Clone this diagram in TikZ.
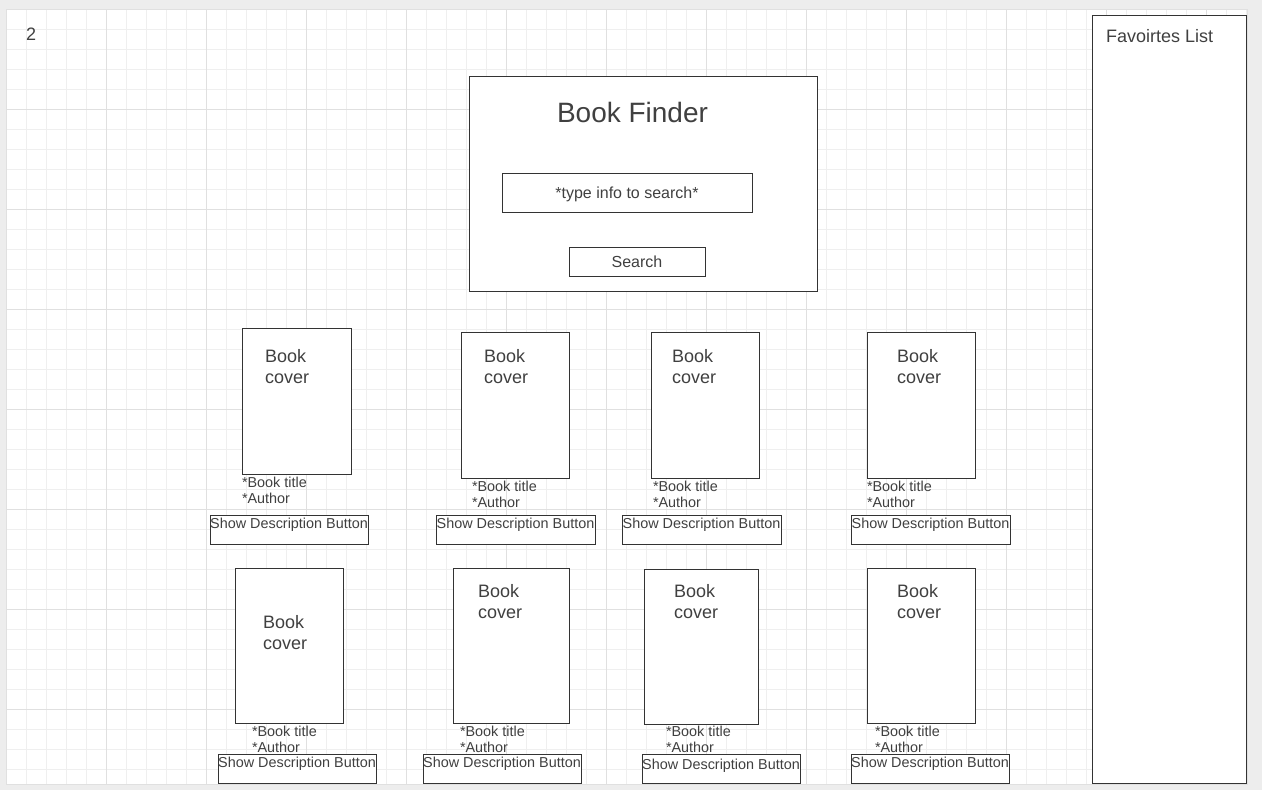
\documentclass[tikz,border=0pt]{standalone}
\usepackage{fontspec}
\setmainfont{Liberation Sans}
\definecolor{txt}{HTML}{404040}
\definecolor{ln}{HTML}{333333}
\definecolor{minorg}{HTML}{EFEFEF}
\definecolor{majorg}{HTML}{E0E0E0}
\definecolor{outerbg}{HTML}{EDEDED}
\tikzset{
  boxst/.style={draw=ln, line width=1pt, fill=white, inner sep=0pt, outer sep=0pt},
  txtst/.style={text=txt, inner sep=0pt, outer sep=0pt},
  smallt/.style={txtst, font=\fontsize{14.4}{16}\selectfont},
  covert/.style={txtst, font=\fontsize{18}{21}\selectfont},
  midt/.style={txtst, font=\fontsize{16}{19}\selectfont},
  bigt/.style={txtst, font=\fontsize{18}{21}\selectfont},
  titlet/.style={txtst, font=\fontsize{28}{34}\selectfont},
}
\newcommand\rbox[5]{\node[boxst, anchor=north west, minimum width={(#4)-(#2)}, minimum height={(#5)-(#3)}] (#1) at (#2,#3) {};}
\begin{document}
\begin{tikzpicture}[x=1pt,y=-1pt]
\fill[outerbg] (0,0) rectangle (1262,790);
\useasboundingbox (0,0) rectangle (1262,790);
\fill[white] (6,9) rectangle (1247,784);
\foreach \x in {6,26,...,1246} \draw[minorg, line width=1pt] (\x,9) -- (\x,784);
\foreach \y in {9,29,...,784} \draw[minorg, line width=1pt] (6,\y) -- (1247,\y);
\foreach \x in {106,206,...,1206} \draw[majorg, line width=1pt] (\x,9) -- (\x,784);
\foreach \y in {109,209,...,709} \draw[majorg, line width=1pt] (6,\y) -- (1247,\y);
\draw[majorg, line width=1pt] (6,9) rectangle (1247,784);

% page number
\node[bigt, anchor=base west] (pnum) at (26,40) {2};

% favourites
\rbox{fav}{1092}{15}{1246}{783}
\node[bigt, anchor=base west] (favt) at (1106,42) {Favoirtes List};

% finder
\rbox{finder}{469}{76}{817}{291}
\node[titlet, anchor=base] (findt) at (632.5,122) {Book Finder};
\rbox{input}{502}{173}{752}{212}
\node[midt, anchor=base] (inputt) at (627,198) {*type info to search*};
\rbox{sbtn}{569}{247}{705}{276}
\node[midt, anchor=base] (sbtnt) at (637,267) {Search};

% ---- row 1 ----
\rbox{ca}{242}{328}{351}{474}
\node[covert, anchor=base west] (cab) at (265,362) {Book};
\node[covert, anchor=base west] (cac) at (265,383) {cover};
\node[smallt, anchor=base west] (cat) at (242,487) {*Book title};
\node[smallt, anchor=base west] (caa) at (242,503) {*Author};
\rbox{ba}{210}{515}{368}{544}
\node[smallt, anchor=base] (bat) at (289,528) {Show Description Button};

\rbox{cb}{461}{332}{569}{478}
\node[covert, anchor=base west] (cbb) at (484,362) {Book};
\node[covert, anchor=base west] (cbc) at (484,383) {cover};
\node[smallt, anchor=base west] (cbt) at (472,491) {*Book title};
\node[smallt, anchor=base west] (cba) at (472,507) {*Author};
\rbox{bb}{436}{515}{595}{544}
\node[smallt, anchor=base] (bbt) at (515.5,528) {Show Description Button};

\rbox{cc}{651}{332}{759}{478}
\node[covert, anchor=base west] (ccb) at (672,362) {Book};
\node[covert, anchor=base west] (ccc) at (672,383) {cover};
\node[smallt, anchor=base west] (cct) at (653,491) {*Book title};
\node[smallt, anchor=base west] (cca) at (653,507) {*Author};
\rbox{bc}{622}{515}{781}{544}
\node[smallt, anchor=base] (bct) at (701.5,528) {Show Description Button};

\rbox{cd}{867}{332}{975}{478}
\node[covert, anchor=base west] (cdb) at (897,362) {Book};
\node[covert, anchor=base west] (cdc) at (897,383) {cover};
\node[smallt, anchor=base west] (cdt) at (867,491) {*Book title};
\node[smallt, anchor=base west] (cda) at (867,507) {*Author};
\rbox{bd}{851}{515}{1010}{544}
\node[smallt, anchor=base] (bdt) at (930.5,528) {Show Description Button};

% ---- row 2 ----
\rbox{ce}{235}{568}{343}{723}
\node[covert, anchor=base west] (ceb) at (263,628) {Book};
\node[covert, anchor=base west] (cec) at (263,649) {cover};
\node[smallt, anchor=base west] (cet) at (252,736) {*Book title};
\node[smallt, anchor=base west] (cea) at (252,752) {*Author};
\rbox{be}{218}{754}{376}{783}
\node[smallt, anchor=base] (bet) at (297,767) {Show Description Button};

\rbox{cf}{453}{568}{569}{723}
\node[covert, anchor=base west] (cfb) at (478,597) {Book};
\node[covert, anchor=base west] (cfc) at (478,618) {cover};
\node[smallt, anchor=base west] (cft) at (460,736) {*Book title};
\node[smallt, anchor=base west] (cfa) at (460,752) {*Author};
\rbox{bf}{423}{754}{581}{783}
\node[smallt, anchor=base] (bft) at (502,767) {Show Description Button};

\rbox{cg}{644}{569}{758}{724}
\node[covert, anchor=base west] (cgb) at (674,597) {Book};
\node[covert, anchor=base west] (cgc) at (674,618) {cover};
\node[smallt, anchor=base west] (cgt) at (666,736) {*Book title};
\node[smallt, anchor=base west] (cga) at (666,752) {*Author};
\rbox{bg}{642}{754}{800}{783}
\node[smallt, anchor=base] (bgt) at (721,769) {Show Description Button};

\rbox{ch}{867}{568}{975}{723}
\node[covert, anchor=base west] (chb) at (897,597) {Book};
\node[covert, anchor=base west] (chc) at (897,618) {cover};
\node[smallt, anchor=base west] (cht) at (875,736) {*Book title};
\node[smallt, anchor=base west] (cha) at (875,752) {*Author};
\rbox{bh}{851}{754}{1009}{783}
\node[smallt, anchor=base] (bht) at (930,767) {Show Description Button};
\end{tikzpicture}
\end{document}
